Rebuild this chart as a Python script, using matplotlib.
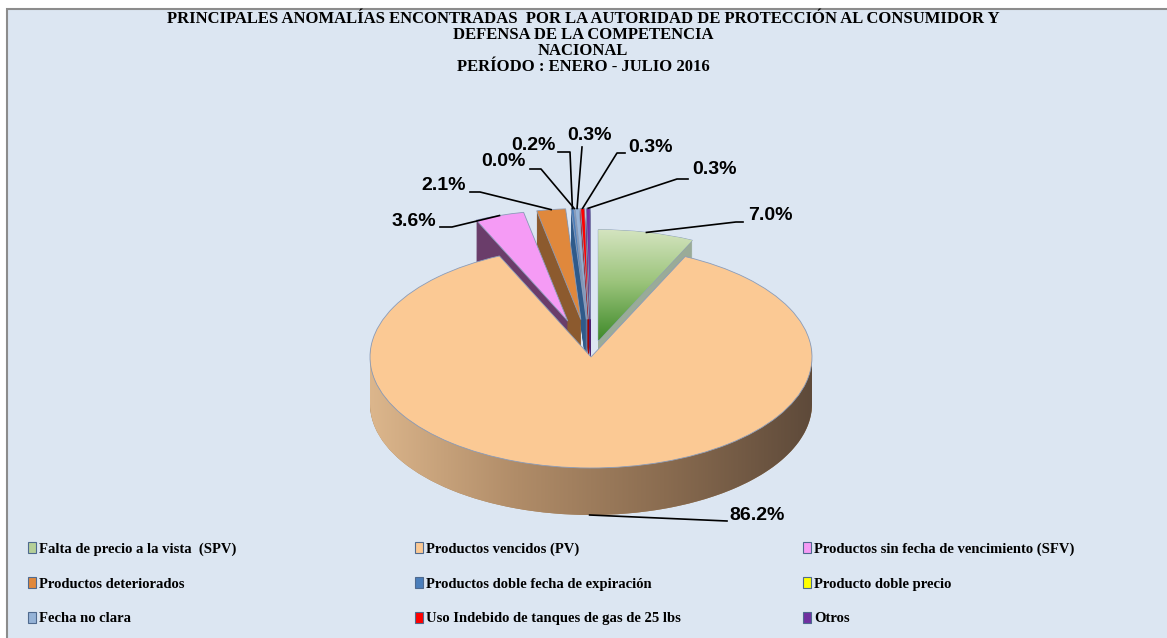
import matplotlib
matplotlib.use('Agg')
import matplotlib.pyplot as plt
import numpy as np
from matplotlib.patches import Rectangle, Patch, PathPatch
from matplotlib.path import Path

# datos del grafico
categorias = ['Falta de precio a la vista  (SPV)', 'Productos vencidos (PV)',
              'Productos sin fecha de vencimiento (SFV)', 'Productos deteriorados',
              'Productos doble fecha de expiración', 'Producto doble precio',
              'Fecha no clara', 'Uso Indebido de tanques de gas de 25 lbs', 'Otros']
porcentajes = [7.0, 86.2, 3.6, 2.1, 0.2, 0.0, 0.3, 0.3, 0.3]

colores = ['#b5cf98', '#fbc994', '#f59bf5', '#e0883c', '#4a7ebb',
           '#ffff00', '#95b3d7', '#ff0000', '#7030a0']
colores_lado = ['#9aab98', '#a8865f', '#6a3d6a', '#8c5a2e', '#2f5a8a',
                '#a0a000', '#5f7d9f', '#a00000', '#4a2070']
separacion = [0.15, 0.0, 0.34, 0.34, 0.34, 0.34, 0.34, 0.34, 0.34]

titulo = ('PRINCIPALES ANOMALÍAS ENCONTRADAS  POR LA AUTORIDAD DE PROTECCIÓN AL CONSUMIDOR Y\n'
          'DEFENSA DE LA COMPETENCIA\nNACIONAL\nPERÍODO : ENERO - JULIO 2016')

W, H = 1167, 638
fig = plt.figure(figsize=(W / 100, H / 100), dpi=100)
fig.patch.set_facecolor('white')

# fondo del area del grafico
fondo = Rectangle((7 / W, -0.1), 1.2, 1 - 9 / H + 0.1, transform=fig.transFigure,
                  facecolor='#dce6f2', edgecolor='#8c8c8c', linewidth=1.5, zorder=-5)
fig.patches.append(fondo)

ax = fig.add_axes([0, 0, 1, 1])
ax.set_facecolor('none')

# centro del pastel y radios en pixeles
cx, cy, rx, ry = 591, 357, 221, 111
prof = 47 / ry

# pared lateral: pasteles apilados
n = 48
for k in range(n, 0, -1):
    d = prof * k / n
    ax.pie(porcentajes, startangle=90, counterclock=False, explode=separacion,
           colors=colores_lado, center=(0, -d),
           wedgeprops=dict(linewidth=0, zorder=1))

# degradado del lado del pastel principal
t = np.linspace(np.pi, 2 * np.pi, 200)
xs = np.concatenate([np.cos(t), np.cos(t[::-1])])
ys = np.concatenate([np.sin(t) - prof, np.sin(t[::-1])])
borde = PathPatch(Path(np.column_stack([xs, ys])), transform=ax.transData,
                  facecolor='none', edgecolor='none')
ax.add_patch(borde)
cmap_lado = matplotlib.colors.LinearSegmentedColormap.from_list(
    'lado', ['#dcb68c', '#b08c68', '#8a6c50', '#5e4a3a'])
img = ax.imshow(np.linspace(0, 1, 256)[None, :], cmap=cmap_lado, aspect='auto',
                extent=[-1, 1, -1 - prof, 0], zorder=2)
img.set_clip_path(borde)

# cara superior
cuñas, _ = ax.pie(porcentajes, startangle=90, counterclock=False, explode=separacion,
                  colors=colores,
                  wedgeprops=dict(linewidth=0.6, edgecolor='#8a9cba', zorder=3))

# degradado verde
cmap_verde = matplotlib.colors.LinearSegmentedColormap.from_list(
    'verde', ['#3f8a2a', '#9cc47c', '#dbe8c8'])
img2 = ax.imshow(np.linspace(0, 1, 256)[:, None], cmap=cmap_verde, aspect='auto',
                 origin='lower', extent=[0, 0.5, 0.15, 1.2], zorder=3.5)
img2.set_clip_path(cuñas[0])

ax.set_aspect('auto')
ax.set_xlim(-cx / rx, (W - cx) / rx)
ax.set_ylim((cy - H) / ry, cy / ry)
ax.axis('off')


def px(x, y):
    return ((x - cx) / rx, (cy - y) / ry)


# etiquetas de porcentaje: texto, alineacion, puntos del conector
pos_texto = [(748, 216, 'left'), (729, 515, 'left'), (436, 221, 'right'),
             (466, 185, 'right'), (556, 145, 'right'), (526, 162, 'right'),
             (589, 135, 'center'), (628, 147, 'left'), (692, 170, 'left')]
conector = [[(743, 222), (736, 222)], [(727, 521)], [(440, 227), (452, 227)],
            [(470, 192), (480, 192)], [(558, 152), (570, 152)], [(530, 169), (541, 169)],
            [(582, 147)], [(625, 153), (617, 153)], [(688, 179), (677, 179)]]

total = sum(porcentajes)
ang = 90.0
for i, v in enumerate(porcentajes):
    a2 = ang - 360 * v / total
    m = np.radians((ang + a2) / 2)
    ang = a2
    r = 1 + separacion[i]
    axx, ayy = r * np.cos(m), r * np.sin(m)
    if ayy < 0:
        ayy = ayy - prof
    pts = [px(*p) for p in conector[i]] + [(axx, ayy)]
    ax.plot([p[0] for p in pts], [p[1] for p in pts], color='black', lw=1.2, zorder=5)
    tx, ty, ha = pos_texto[i]
    ax.text(*px(tx, ty), f'{v:.1f}%', ha=ha, va='center', fontsize=14,
            fontweight='bold', family='Liberation Sans', zorder=6)

# titulo
fig.text(583 / W, 1 - 11 / H, titulo, ha='center', va='top', fontsize=12,
         fontweight='bold', family='Liberation Serif', linespacing=1.0)

# leyenda en tres columnas
xs_ley = [28, 415, 803]
for c in range(3):
    idx = [c, c + 3, c + 6]
    manejadores = [Patch(facecolor=colores[i], edgecolor='#4f6a8f', linewidth=0.8) for i in idx]
    ley = fig.legend(manejadores, [categorias[i] for i in idx], loc='upper left',
                     bbox_to_anchor=(xs_ley[c] / W, 1 - 542 / H), frameon=False,
                     borderpad=0, borderaxespad=0, handlelength=0.55, handleheight=0.8,
                     handletextpad=0.2, labelspacing=1.45,
                     prop=dict(family='Liberation Serif', weight='bold', size=10.5))

fig.savefig('out.png', dpi=100)
